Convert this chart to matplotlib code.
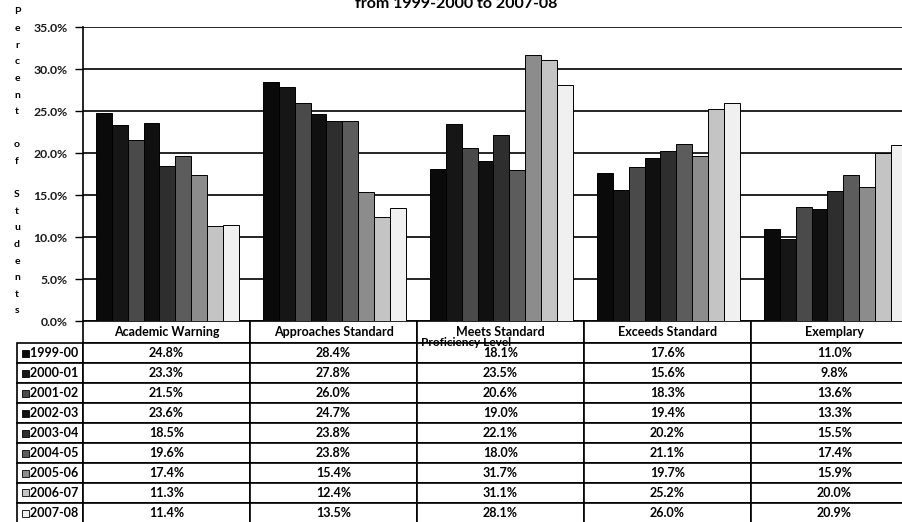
import matplotlib
matplotlib.use('Agg')
import matplotlib.pyplot as plt
from matplotlib.table import Table
from matplotlib.patches import Rectangle
import numpy as np

plt.rcParams['font.family'] = ['Lato', 'DejaVu Sans']

levels = ['Academic Warning', 'Approaches Standard', 'Meets Standard',
          'Exceeds Standard', 'Exemplary']
years = ['1999-00', '2000-01', '2001-02', '2002-03', '2003-04',
         '2004-05', '2005-06', '2006-07', '2007-08']
y1999 = [24.8, 28.4, 18.1, 17.6, 11.0]
y2000 = [23.3, 27.8, 23.5, 15.6, 9.8]
y2001 = [21.5, 26.0, 20.6, 18.3, 13.6]
y2002 = [23.6, 24.7, 19.0, 19.4, 13.3]
y2003 = [18.5, 23.8, 22.1, 20.2, 15.5]
y2004 = [19.6, 23.8, 18.0, 21.1, 17.4]
y2005 = [17.4, 15.4, 31.7, 19.7, 15.9]
y2006 = [11.3, 12.4, 31.1, 25.2, 20.0]
y2007 = [11.4, 13.5, 28.1, 26.0, 20.9]
series = [y1999, y2000, y2001, y2002, y2003, y2004, y2005, y2006, y2007]

colors = ['#0a0a0a', '#161616', '#4a4a4a', '#101010', '#2e2e2e',
          '#5c5c5c', '#8c8c8c', '#c4c4c4', '#f0f0f0']

fig = plt.figure(figsize=(9.02, 5.22), dpi=100)
ax = fig.add_axes([83 / 902, 1 - 321 / 522, 835 / 902, 294 / 522])

x = np.arange(len(levels))
bw = 0.095
for i, vals in enumerate(series):
    ax.bar(x + (i - 4) * bw + 0.005, vals, width=bw, color=colors[i],
           edgecolor='black', linewidth=0.7, zorder=3)

ax.set_xlim(-0.5, len(levels) - 0.5)
ax.set_ylim(0, 35)
ax.set_yticks(np.arange(0, 36, 5))
ax.set_yticklabels(['{:.1f}%'.format(v) for v in np.arange(0, 36, 5)],
                   fontsize=8.8, fontweight='bold', color='#1a1a1a')
ax.set_xticks([])
ax.yaxis.grid(True, color='black', linewidth=1.2)
ax.set_axisbelow(True)
ax.tick_params(axis='y', length=6, width=1, pad=5)
for s in ['top', 'right', 'bottom']:
    ax.spines[s].set_visible(False)
ax.spines['left'].set_linewidth(1.2)

# Data table underneath (bbox covers the data cells; row labels hang to the left)
tab = Table(ax, bbox=[0, -202 / 294, 1, 202 / 294])
lw = 66 / 835
cw = 0.2
hh = 22 / 294
rh = 20 / 294
for j, name in enumerate(levels):
    c = tab.add_cell(0, j, cw, hh, text=name, loc='center', facecolor='white')
    c.get_text().set_fontweight('bold')
for i, yr in enumerate(years):
    c = tab.add_cell(i + 1, -1, lw, rh, text='    ' + yr, loc='left', facecolor='white')
    c.get_text().set_fontweight('bold')
    for j in range(len(levels)):
        c = tab.add_cell(i + 1, j, cw, rh, text='{:.1f}%'.format(series[i][j]),
                         loc='center', facecolor='white')
        c.get_text().set_fontweight('bold')
tab.auto_set_font_size(False)
tab.set_fontsize(9)
for cell in tab.get_celld().values():
    cell.set_linewidth(1.2)
    cell.PAD = 0.02
ax.add_table(tab)

# legend keys in row labels
for i in range(len(years)):
    yc = -(22 + 20 * i + 10) / 294
    ax.add_patch(Rectangle((-61 / 835, yc - 3.5 / 294), 7 / 835, 7 / 294,
                           facecolor=colors[i], edgecolor='black', linewidth=0.6,
                           transform=ax.transAxes, clip_on=False, zorder=5))

# axis titles
label = 'Percent of Students'
for k, ch in enumerate(label):
    fig.text(17 / 902, 1 - (12 + k * 16.6) / 522, ch, ha='center', va='center',
             fontsize=7.5, fontweight='bold')
fig.text(466 / 902, 1 - 342 / 522, 'Proficiency Level', ha='center', va='center',
         fontsize=8.5, fontweight='bold')
fig.text(456 / 902, 1 - 8 / 522, 'from 1999-2000 to 2007-08', ha='center', va='baseline',
         fontsize=11.5, fontweight='bold')

fig.savefig('out.png', dpi=100)
